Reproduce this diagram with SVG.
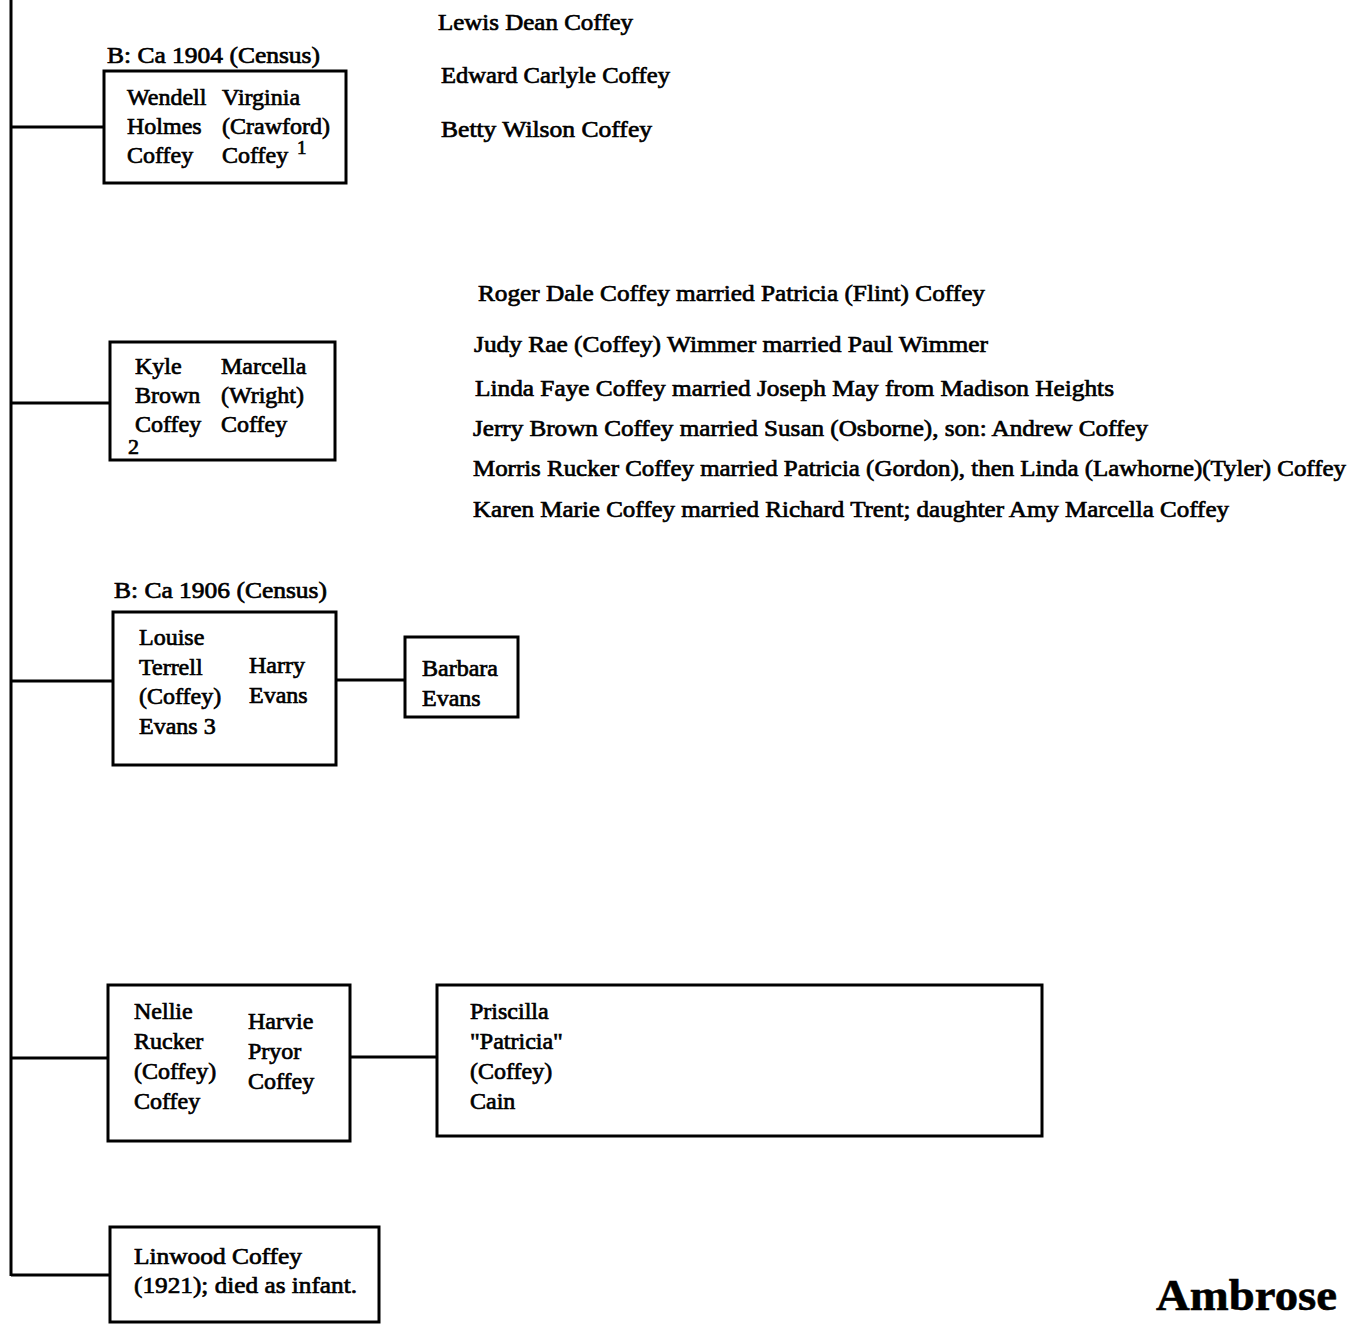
<svg xmlns="http://www.w3.org/2000/svg" width="1353" height="1324" viewBox="0 0 1353 1324">
<style>
text{font-family:"Liberation Serif","Times New Roman",serif;font-size:24px;fill:#000;stroke:#000;stroke-width:0.7px}
.big{font-size:45px;font-weight:bold;stroke-width:0.6px}
.sup{font-size:19px}
.box{fill:#fff;stroke:#000;stroke-width:3}
.ln{fill:none;stroke:#000;stroke-width:3}
</style>
<rect width="1353" height="1324" fill="#fff"/>
<g id="connectors">
<path class="ln" d="M11,0 V1276"/>
<path class="ln" d="M11,127 H104"/>
<path class="ln" d="M11,403 H110"/>
<path class="ln" d="M11,681 H113"/>
<path class="ln" d="M336,680 H405"/>
<path class="ln" d="M11,1058 H108"/>
<path class="ln" d="M350,1057 H437"/>
<path class="ln" d="M11,1275 H110"/>
</g>
<g id="wendell">
<text x="107" y="63" textLength="213" lengthAdjust="spacingAndGlyphs">B: Ca 1904 (Census)</text>
<rect class="box" x="104" y="71" width="242" height="112"/>
<text x="127" y="105">Wendell</text>
<text x="127" y="134">Holmes</text>
<text x="127" y="163">Coffey</text>
<text x="222" y="105">Virginia</text>
<text x="222" y="134">(Crawford)</text>
<text x="222" y="163">Coffey</text>
<text class="sup" x="297" y="154">1</text>
</g>
<g id="wendell-children">
<text x="438" y="30" textLength="195" lengthAdjust="spacingAndGlyphs">Lewis Dean Coffey</text>
<text x="441" y="83" textLength="229" lengthAdjust="spacingAndGlyphs">Edward Carlyle Coffey</text>
<text x="441" y="137" textLength="211" lengthAdjust="spacingAndGlyphs">Betty Wilson Coffey</text>
</g>
<g id="kyle">
<rect class="box" x="110" y="342" width="225" height="118"/>
<text x="135" y="374">Kyle</text>
<text x="135" y="403">Brown</text>
<text x="135" y="432">Coffey</text>
<text x="128" y="454" style="font-size:22px">2</text>
<text x="221" y="374">Marcella</text>
<text x="221" y="403">(Wright)</text>
<text x="221" y="432">Coffey</text>
</g>
<g id="kyle-children">
<text x="478" y="301" textLength="507" lengthAdjust="spacingAndGlyphs">Roger Dale Coffey married Patricia (Flint) Coffey</text>
<text x="474" y="352" textLength="514" lengthAdjust="spacingAndGlyphs">Judy Rae (Coffey) Wimmer married Paul Wimmer</text>
<text x="475" y="396" textLength="639" lengthAdjust="spacingAndGlyphs">Linda Faye Coffey married Joseph May from Madison Heights</text>
<text x="473" y="436" textLength="675" lengthAdjust="spacingAndGlyphs">Jerry Brown Coffey married Susan (Osborne), son: Andrew Coffey</text>
<text x="473" y="476" textLength="873" lengthAdjust="spacingAndGlyphs">Morris Rucker Coffey married Patricia (Gordon), then Linda (Lawhorne)(Tyler) Coffey</text>
<text x="473" y="517" textLength="756" lengthAdjust="spacingAndGlyphs">Karen Marie Coffey married Richard Trent; daughter Amy Marcella Coffey</text>
</g>
<g id="louise">
<text x="114" y="598" textLength="213" lengthAdjust="spacingAndGlyphs">B: Ca 1906 (Census)</text>
<rect class="box" x="113" y="612" width="223" height="153"/>
<text x="139" y="645">Louise</text>
<text x="139" y="675">Terrell</text>
<text x="139" y="704">(Coffey)</text>
<text x="139" y="734">Evans 3</text>
<text x="249" y="673">Harry</text>
<text x="249" y="703">Evans</text>
</g>
<g id="barbara">
<rect class="box" x="405" y="637" width="113" height="80"/>
<text x="422" y="676">Barbara</text>
<text x="422" y="706">Evans</text>
</g>
<g id="nellie">
<rect class="box" x="108" y="985" width="242" height="156"/>
<text x="134" y="1019">Nellie</text>
<text x="134" y="1049">Rucker</text>
<text x="134" y="1079">(Coffey)</text>
<text x="134" y="1109">Coffey</text>
<text x="248" y="1029">Harvie</text>
<text x="248" y="1059">Pryor</text>
<text x="248" y="1089">Coffey</text>
</g>
<g id="priscilla">
<rect class="box" x="437" y="985" width="605" height="151"/>
<text x="470" y="1019">Priscilla</text>
<text x="470" y="1049">"Patricia"</text>
<text x="470" y="1079">(Coffey)</text>
<text x="470" y="1109">Cain</text>
</g>
<g id="linwood">
<rect class="box" x="110" y="1227" width="269" height="95"/>
<text x="134" y="1264" textLength="168" lengthAdjust="spacingAndGlyphs">Linwood Coffey</text>
<text x="134" y="1293" textLength="223" lengthAdjust="spacingAndGlyphs">(1921); died as infant.</text>
</g>
<g id="title">
<text class="big" x="1156" y="1310" textLength="181" lengthAdjust="spacingAndGlyphs">Ambrose</text>
</g>
</svg>
